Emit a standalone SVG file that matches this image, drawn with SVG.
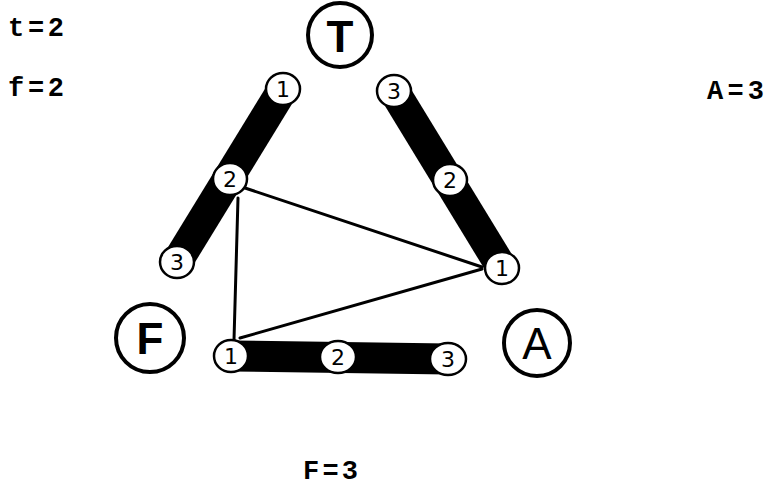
<svg xmlns="http://www.w3.org/2000/svg" width="768" height="490" viewBox="0 0 768 490">
<style>
.bar{stroke:#000;stroke-width:31;stroke-linecap:butt;fill:none}
.edge{stroke:#000;stroke-width:3;fill:none;stroke-linecap:round}
.sn{fill:#fff;stroke:#000;stroke-width:2.5}
.sl{font-family:"DejaVu Sans","Liberation Sans",sans-serif;font-size:22px;text-anchor:middle;fill:#000}
.big{fill:#fff;stroke:#000;stroke-width:4}
.bl{font-family:"Liberation Sans",sans-serif;font-size:44px;text-anchor:middle;fill:#000}
.lab{font-family:"Liberation Mono","Courier New",monospace;font-size:27px;font-weight:bold;fill:#000}
</style>
<rect width="768" height="490" fill="#fff"/>
<g id="bars">
<line class="bar" x1="283" y1="89" x2="177" y2="262"/>
<line class="bar" x1="394" y1="91" x2="502" y2="268"/>
<line class="bar" x1="231" y1="356" x2="448" y2="359"/>
</g>
<g id="connectors">
<line class="edge" x1="245" y1="188" x2="482" y2="267"/>
<line class="edge" x1="238" y1="198" x2="234" y2="340"/>
<line class="edge" x1="240" y1="338" x2="482" y2="269"/>
</g>
<g id="T"><circle class="big" cx="340" cy="35" r="32"/><text class="bl" x="340" y="52" font-weight="bold">T</text></g>
<g id="F"><circle class="big" cx="150" cy="338" r="34"/><text class="bl" x="150" y="354" font-weight="bold">F</text></g>
<g id="A"><circle class="big" cx="537" cy="343" r="33"/><text class="bl" x="537" y="359">A</text></g>
<g id="T1"><ellipse class="sn" cx="283" cy="89" rx="17" ry="16"/><text class="sl" x="283" y="97">1</text></g>
<g id="T2"><ellipse class="sn" cx="230" cy="179" rx="17" ry="16"/><text class="sl" x="230" y="187">2</text></g>
<g id="T3"><ellipse class="sn" cx="177" cy="262" rx="17" ry="16"/><text class="sl" x="177" y="270">3</text></g>
<g id="A3"><ellipse class="sn" cx="394" cy="91" rx="17" ry="16"/><text class="sl" x="394" y="99">3</text></g>
<g id="A2"><ellipse class="sn" cx="450" cy="180" rx="17" ry="16"/><text class="sl" x="450" y="188">2</text></g>
<g id="A1"><ellipse class="sn" cx="502" cy="268" rx="17" ry="16"/><text class="sl" x="502" y="276">1</text></g>
<g id="F1"><ellipse class="sn" cx="231" cy="356" rx="17" ry="16"/><text class="sl" x="231" y="364">1</text></g>
<g id="F2"><ellipse class="sn" cx="338" cy="357" rx="18" ry="16"/><text class="sl" x="338" y="365">2</text></g>
<g id="F3"><ellipse class="sn" cx="448" cy="359" rx="18" ry="16"/><text class="sl" x="448" y="367">3</text></g>
<g id="labels">
<text class="lab" x="8" y="36" textLength="56" lengthAdjust="spacing">t=2</text>
<text class="lab" x="8" y="96" textLength="56" lengthAdjust="spacing">f=2</text>
<text class="lab" x="707" y="99" textLength="57" lengthAdjust="spacing">A=3</text>
<text class="lab" x="303" y="479" textLength="55" lengthAdjust="spacing">F=3</text>
</g>
</svg>
